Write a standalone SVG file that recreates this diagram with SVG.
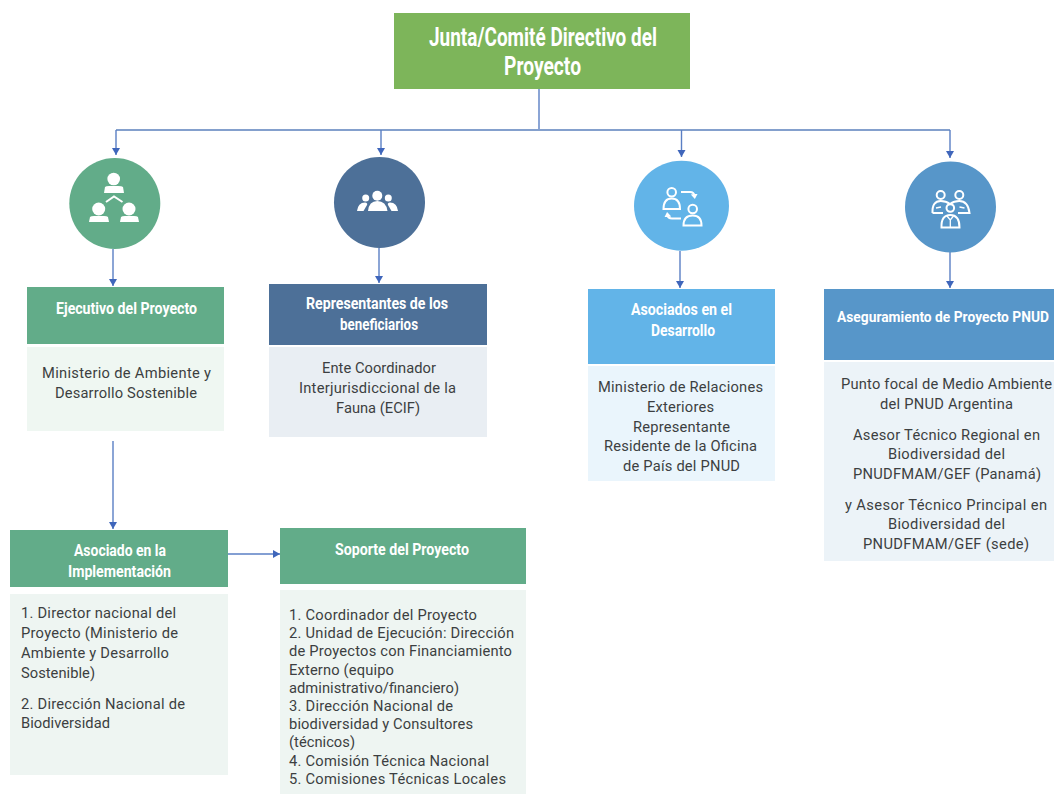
<svg xmlns="http://www.w3.org/2000/svg" width="1054" height="794" viewBox="0 0 1054 794">
<style>
.h{font-family:"Roboto","Liberation Sans",sans-serif;font-weight:700;fill:#fff;font-size:16.5px}
.j{font-size:26px}
.k{font-size:15px}
.t{font-family:"Roboto","Liberation Sans",sans-serif;font-size:14.7px;fill:#3c3f41;transform:translateY(.6px)}
.l{fill:none;stroke:#5a7fc4;stroke-width:1.4}
.p{fill:none;stroke:#84a0cd;stroke-width:2}
.w{fill:#fff}
.o{fill:none;stroke:#fff;stroke-width:2}
.s{fill:none;stroke:#fff;stroke-width:1.3}
</style>
<defs><marker id="a" markerWidth="9" markerHeight="9" refX="7" refY="4" orient="auto" markerUnits="userSpaceOnUse"><path d="M0 0L7 4L0 8Z" fill="#3f66bb"/></marker>
<marker id="b" markerWidth="6" markerHeight="8" refX="2" refY="3.5" orient="auto" markerUnits="userSpaceOnUse"><path d="M0 0L5 3.5L0 7Z" fill="#fff"/></marker></defs>
<rect width="1054" height="794" fill="#fff"/>
<g id="connectors">
<path class="l" d="M539 89V130"/>
<path class="p" d="M116 130H950"/>
<path class="l" d="M116 130V155" marker-end="url(#a)"/>
<path class="l" d="M381 130V155" marker-end="url(#a)"/>
<path class="l" d="M681.5 130V157" marker-end="url(#a)"/>
<path class="l" d="M950 130V158" marker-end="url(#a)"/>
<path class="l" d="M113 249V286" marker-end="url(#a)"/>
<path class="l" d="M379 248V283" marker-end="url(#a)"/>
<path class="l" d="M680 251V288" marker-end="url(#a)"/>
<path class="l" d="M950 252V288" marker-end="url(#a)"/>
<path class="l" d="M113 441V529" marker-end="url(#a)"/>
<path class="l" d="M228 554H280" marker-end="url(#a)"/>
</g>
<g id="junta"><rect x="394" y="13" width="296" height="76" fill="#7db55a"/>
<text class="h j" x="429" y="46" textLength="228" lengthAdjust="spacingAndGlyphs">Junta/Comité Directivo del</text>
<text class="h j" x="504" y="75" textLength="77" lengthAdjust="spacingAndGlyphs">Proyecto</text></g>
<g id="icon-ejecutivo"><circle cx="114.8" cy="203.5" r="45.5" fill="#62ac89"/>
<circle class="w" cx="113.7" cy="179" r="6.3"/><path class="w" d="M104 193L105 187Q106 186 109 186H118Q122 186 123 187L124 193Z"/>
<circle class="w" cx="98.7" cy="209" r="6.5"/><path class="w" d="M89 222L90 217Q91 216 94 216H104Q107 216 108 217L109 222Z"/>
<circle class="w" cx="129" cy="209" r="6.5"/><path class="w" d="M120 222L121 217Q122 216 125 216H134Q137 216 138 217L139 222Z"/>
<path class="o" d="M106 202L114 196.500L122.500 202"/></g>
<g id="icon-beneficiarios"><circle cx="379.500" cy="202.500" r="45.500" fill="#4d7098"/>
<circle class="w" cx="377.300" cy="195.700" r="5"/><path class="w" d="M368 211Q369 201 377.300 201Q386 201 387.500 211Z"/>
<circle class="w" cx="365.700" cy="198" r="3.500"/><path class="w" d="M357 211Q358 202.500 365 202.500Q368 203 367 205L363.500 211Z"/>
<circle class="w" cx="388.300" cy="198" r="3.500"/><path class="w" d="M398 211Q397 202.500 390 202.500Q387 203 388 205L391.500 211Z"/></g>
<g id="icon-asociados"><ellipse cx="681.500" cy="205.800" rx="47.500" ry="45" fill="#62b4e8"/>
<circle class="o" cx="671.700" cy="192.300" r="4.300"/><path class="o" d="M663.500 209Q663.500 198.500 671.700 198.500Q680 198.500 680 209Z"/>
<circle class="o" cx="692.700" cy="209" r="4.300"/><path class="o" d="M683.500 225.500Q683.500 215.500 692.700 215.500Q701.500 215.500 701.500 225.500Z"/>
<path class="o" d="M681 192H690Q694 192 694.500 196" marker-end="url(#b)"/>
<path class="o" d="M681 218.500H672Q668 218.500 667.500 215" marker-end="url(#b)"/></g>
<g id="icon-aseguramiento"><circle cx="950.500" cy="207" r="45.500" fill="#5796c9"/>
<circle class="o" cx="940.700" cy="195" r="4"/><circle class="o" cx="959.300" cy="195" r="4"/><circle class="o" cx="950.300" cy="208" r="3.800"/>
<path class="o" d="M932.500 213Q932 201 940.700 201Q946 201 950 204Q954 201 959.300 201Q968 201 969.500 213H958M932.500 213H943"/>
<path class="o" d="M941.500 227.500Q941 215 950.300 215Q959.500 215 959.500 227.500Z"/>
<path class="s" d="M936 208L941 207M964.500 208L959.500 207M947 216L950.300 220L953.500 216M950.300 220V227"/></g>
<g id="ejecutivo"><rect x="27" y="287" width="197" height="57" fill="#62ac89"/><rect x="27" y="347" width="197" height="84" fill="#eff7f2"/>
<text class="h" x="56" y="314" textLength="141" lengthAdjust="spacingAndGlyphs">Ejecutivo del Proyecto</text>
<text class="t" x="42" y="377" textLength="169">Ministerio de Ambiente y</text><text class="t" x="55" y="397" textLength="142">Desarrollo Sostenible</text></g>
<g id="beneficiarios"><rect x="269" y="284" width="218" height="61" fill="#4d7098"/><rect x="269" y="347" width="218" height="90" fill="#e9eef3"/>
<text class="h" x="306" y="309" textLength="142" lengthAdjust="spacingAndGlyphs">Representantes de los</text><text class="h" x="340" y="330" textLength="78" lengthAdjust="spacingAndGlyphs">beneficiarios</text>
<text class="t" x="322" y="372" textLength="114">Ente Coordinador</text><text class="t" x="299" y="392" textLength="157">Interjurisdiccional de la</text><text class="t" x="336" y="412" textLength="84">Fauna (ECIF)</text></g>
<g id="asociados"><rect x="588" y="289" width="187" height="75" fill="#62b4e8"/><rect x="588" y="366" width="187" height="115" fill="#eaf5fc"/>
<text class="h" x="631" y="315" textLength="101" lengthAdjust="spacingAndGlyphs">Asociados en el</text><text class="h" x="651" y="336" textLength="64" lengthAdjust="spacingAndGlyphs">Desarrollo</text>
<text class="t" x="598" y="391" textLength="165">Ministerio de Relaciones</text><text class="t" x="647" y="411" textLength="67">Exteriores</text><text class="t" x="633" y="431" textLength="97">Representante</text><text class="t" x="604" y="450" textLength="153">Residente de la Oficina</text><text class="t" x="623" y="470" textLength="117">de País del PNUD</text></g>
<g id="aseguramiento"><rect x="824" y="289" width="230" height="71" fill="#5796c9"/><rect x="824" y="362" width="230" height="199" fill="#ecf3f8"/>
<text class="h k" x="837" y="322" textLength="212" lengthAdjust="spacingAndGlyphs">Aseguramiento de Proyecto PNUD</text>
<text class="t" x="841" y="388" textLength="211">Punto focal de Medio Ambiente</text><text class="t" x="880" y="408" textLength="133">del PNUD Argentina</text>
<text class="t" x="853" y="439" textLength="187">Asesor Técnico Regional en</text><text class="t" x="888" y="458" textLength="117">Biodiversidad del</text><text class="t" x="853" y="478" textLength="188">PNUDFMAM/GEF (Panamá)</text>
<text class="t" x="845" y="509" textLength="202">y Asesor Técnico Principal en</text><text class="t" x="888" y="528" textLength="117">Biodiversidad del</text><text class="t" x="863" y="548" textLength="166">PNUDFMAM/GEF (sede)</text></g>
<g id="implementacion"><rect x="10" y="530" width="218" height="57" fill="#62ac89"/><rect x="10" y="594" width="218" height="181" fill="#eef5f2"/>
<text class="h" x="74" y="556" textLength="92" lengthAdjust="spacingAndGlyphs">Asociado en la</text><text class="h" x="68" y="577" textLength="103" lengthAdjust="spacingAndGlyphs">Implementación</text>
<text class="t" x="21" y="617" textLength="155">1. Director nacional del</text><text class="t" x="21" y="637" textLength="157">Proyecto (Ministerio de</text><text class="t" x="21" y="657" textLength="148">Ambiente y Desarrollo</text><text class="t" x="21" y="677" textLength="74">Sostenible)</text><text class="t" x="21" y="708" textLength="164">2. Dirección Nacional de</text><text class="t" x="21" y="727" textLength="89">Biodiversidad</text></g>
<g id="soporte"><rect x="280" y="528" width="246" height="56" fill="#62ac89"/><rect x="280" y="590" width="246" height="204" fill="#eef5f2"/>
<text class="h" x="335" y="555" textLength="134" lengthAdjust="spacingAndGlyphs">Soporte del Proyecto</text>
<text class="t" x="289" y="619" textLength="188">1. Coordinador del Proyecto</text><text class="t" x="289" y="637" textLength="225">2. Unidad de Ejecución: Dirección</text><text class="t" x="289" y="655" textLength="223">de Proyectos con Financiamiento</text><text class="t" x="289" y="674" textLength="105">Externo (equipo</text><text class="t" x="289" y="692" textLength="170">administrativo/financiero)</text><text class="t" x="289" y="710" textLength="164">3. Dirección Nacional de</text><text class="t" x="289" y="728" textLength="184">biodiversidad y Consultores</text><text class="t" x="289" y="746" textLength="66">(técnicos)</text><text class="t" x="289" y="765" textLength="200">4. Comisión Técnica Nacional</text><text class="t" x="289" y="783" textLength="217">5. Comisiones Técnicas Locales</text></g>
</svg>
